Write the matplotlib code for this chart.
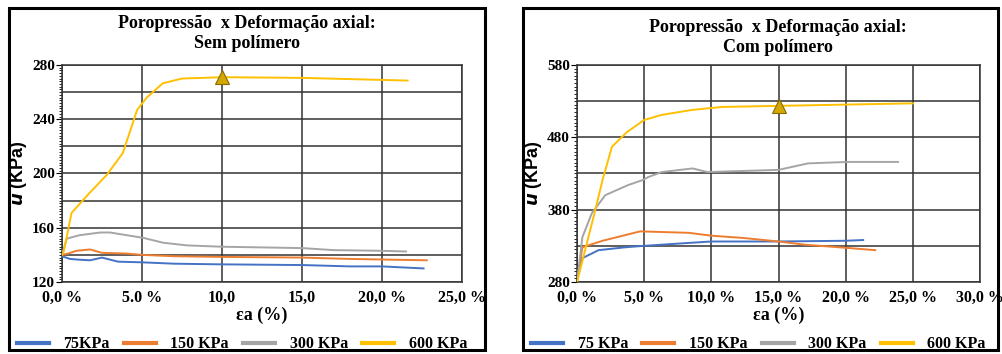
import matplotlib.pyplot as plt
from matplotlib.patches import Rectangle
from matplotlib.ticker import MultipleLocator

plt.rcParams['font.family'] = ['Liberation Serif', 'DejaVu Serif']
plt.rcParams['font.weight'] = 'bold'

# --- Sem polímero (strain %, pore pressure kPa) ---
sem_75_x = [0, 0.5, 1.0, 1.75, 2.5, 3.5, 5, 7, 10, 15, 18, 20, 22.6]
sem_75_y = [139, 137, 136.5, 136, 138, 135, 134.5, 133.5, 133, 132.5, 131.5, 131.5, 130]
sem_150_x = [0, 0.4, 0.9, 1.75, 2.5, 4, 5, 7, 10, 15, 18, 22.8]
sem_150_y = [140, 141, 143, 144, 141.5, 141, 140, 139, 138.5, 138, 137, 136]
sem_300_x = [0, 0.3, 1.1, 2.4, 3.0, 5.1, 6.3, 7.8, 10, 15, 17, 20, 21.5]
sem_300_y = [140, 152, 154.5, 156.5, 156.5, 152.5, 149, 147, 146, 145, 143.5, 143, 142.5]
sem_600_x = [0, 0.1, 0.6, 1.75, 2.8, 3.8, 4.7, 5.3, 6.3, 7.5, 10, 15, 20, 21.6]
sem_600_y = [140, 142, 171, 186, 199, 215, 247, 256, 266.5, 270, 271, 270.5, 269, 268.5]
sem_peak = (10, 271)

# --- Com polímero ---
com_75_x = [0, 0.4, 1.6, 3.6, 5, 8.3, 10, 15, 20, 21.3]
com_75_y = [285, 313, 324, 328, 330, 334, 336, 336, 337, 338]
com_150_x = [0, 0.4, 1.9, 4.7, 8.3, 10, 12.3, 15, 17, 20.2, 22.2]
com_150_y = [280, 328, 337, 350, 348, 344, 341, 336, 331.5, 327, 324]
com_300_x = [0, 0.4, 1.1, 2.1, 3.8, 4.9, 5.3, 6.3, 8.6, 9.7, 15, 17.2, 20.2, 23.9]
com_300_y = [280, 342, 375, 400, 414, 421, 425, 432, 437, 432, 435, 444, 446, 446]
com_600_x = [0, 1.3, 1.9, 2.6, 3.7, 5.0, 6.3, 8.6, 10.8, 15, 25]
com_600_y = [280, 375, 421, 467, 487, 504, 511, 518, 522, 523.5, 527]
com_peak = (15, 524)

labels_sem = ['75KPa', '150 KPa', '300 KPa', '600 KPa']
labels_com = ['75 KPa', '150 KPa', '300 KPa', '600 KPa']
colors = ['#4472C4', '#ED7D31', '#A5A5A5', '#FFC000']

xt_sem = ['0,0 %', '5.0 %', '10,0', '15,0', '20,0 %', '25,0 %']
xt_com = ['0,0 %', '5,0 %', '10,0 %', '15,0 %', '20,0 %', '25,0 %', '30,0 %']

fig = plt.figure(figsize=(10.03, 3.54), dpi=100)

# panel borders
for x0, w in [(0.009, 0.475), (0.521, 0.474)]:
    fig.patches.append(Rectangle((x0, 0.012), w, 0.965, transform=fig.transFigure,
                                 fill=False, edgecolor='black', lw=2.2))

ax1 = fig.add_axes([0.0618, 0.2034, 0.3988, 0.613])
ax2 = fig.add_axes([0.5753, 0.2034, 0.4018, 0.613])


def style(ax, xmax, ymin, ymax, ymajor, ygrid, xt):
    ax.set_xlim(0, xmax)
    ax.set_ylim(ymin, ymax)
    ax.set_xticks([i * 5 for i in range(len(xt))])
    ax.set_xticklabels(xt, fontsize=11.5, fontweight='bold')
    ax.set_yticks(range(ymin, ymax + 1, ymajor))
    ax.tick_params(axis='y', labelsize=11, length=4, pad=1)
    ax.tick_params(axis='x', length=0, pad=6)
    ax.yaxis.set_minor_locator(MultipleLocator(ygrid / 10))
    ax.tick_params(axis='y', which='minor', length=2, width=0.6)
    for y in range(ymin, ymax + 1, ygrid):
        ax.axhline(y, color='#333333', lw=1.1, zorder=1)
    for x in range(0, xmax + 1, 5):
        ax.axvline(x, color='#333333', lw=1.1, zorder=1)
    for s in ax.spines.values():
        s.set_color('#333333')
        s.set_linewidth(1.1)
    ax.set_xlabel('εa (%)', fontsize=13, fontweight='bold', labelpad=0)
    ax.set_ylabel(r'$\mathbfit{u}$ (KPa)', fontsize=13, labelpad=2,
                  fontfamily='Liberation Sans', fontweight='bold')


style(ax1, 25, 120, 280, 40, 20, xt_sem)
style(ax2, 30, 280, 580, 100, 50, xt_com)

sem = [(sem_75_x, sem_75_y), (sem_150_x, sem_150_y), (sem_300_x, sem_300_y), (sem_600_x, sem_600_y)]
com = [(com_75_x, com_75_y), (com_150_x, com_150_y), (com_300_x, com_300_y), (com_600_x, com_600_y)]

for ax, data, labels, peak in [(ax1, sem, labels_sem, sem_peak), (ax2, com, labels_com, com_peak)]:
    for (x, y), c, l in zip(data, colors, labels):
        ax.plot(x, y, color=c, lw=1.4, label=l, zorder=3)
    ax.plot(*peak, marker='^', ms=10, color='#D4A800', mec='#8A6A00', mew=0.8, zorder=4)
    leg = ax.legend(loc='upper center', bbox_to_anchor=(0.45, -0.25), ncol=4, frameon=False,
                    prop={'size': 11.5, 'weight': 'bold'}, handlelength=2.0, columnspacing=0.9,
                    handletextpad=0.9, borderaxespad=0, borderpad=0)
    for h in leg.get_lines():
        h.set_linewidth(3)

fig.text(0.246, 0.905, 'Poropressão  x Deformação axial:\nSem polímero', ha='center', va='center',
         fontsize=13, fontweight='bold', linespacing=1.2)
fig.text(0.776, 0.894, 'Poropressão  x Deformação axial:\nCom polímero', ha='center', va='center',
         fontsize=13, fontweight='bold', linespacing=1.2)

fig.savefig('out.png', dpi=100)
